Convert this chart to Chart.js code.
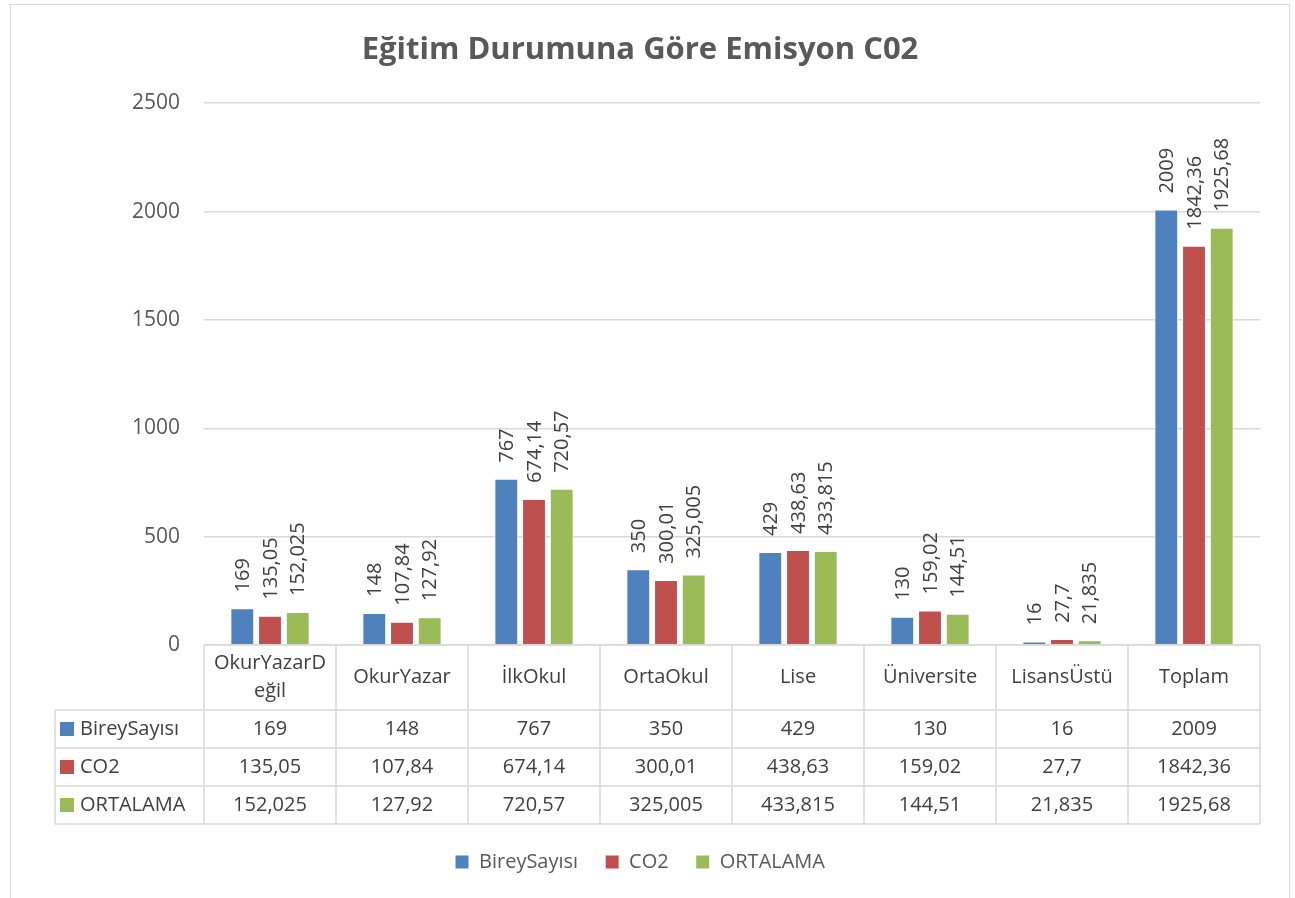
<!DOCTYPE html>
<html>
<head>
<meta charset="utf-8">
<script src="https://cdn.jsdelivr.net/npm/chart.js@4"></script>
<style>
  body { margin: 0; background: #fff; }
  #frame { position: absolute; left: 10px; top: 4px; width: 1280px; height: 920px; border: 1.5px solid #d9d9d9; box-sizing: border-box; }
  #wrap { position: absolute; left: 0; top: 0; width: 1295px; height: 898px; }
</style>
</head>
<body>
<div id="frame"></div>
<div id="wrap"><canvas id="grafico" width="1295" height="898"></canvas></div>
<script>
// dados do grafico
const categorias = [['OkurYazarD', 'eğil'], 'OkurYazar', 'İlkOkul', 'OrtaOkul', 'Lise', 'Üniversite', 'LisansÜstü', 'Toplam'];
const bireySayisi = [169, 148, 767, 350, 429, 130, 16, 2009];
const co2 = [135.05, 107.84, 674.14, 300.01, 438.63, 159.02, 27.7, 1842.36];
const ortalama = [152.025, 127.92, 720.57, 325.005, 433.815, 144.51, 21.835, 1925.68];
const ticksY = [0, 500, 1000, 1500, 2000, 2500];

const fonte = '"Open Sans", sans-serif';
const corTexto = '#404040';

function formatar(v) {
    return String(v).replace('.', ',');
}

// rotulos verticais acima das barras
const rotulosPlugin = {
    id: 'rotulos',
    afterDatasetsDraw(chart) {
        const ctx = chart.ctx;
        ctx.save();
        ctx.font = '20px ' + fonte;
        ctx.fillStyle = corTexto;
        ctx.textAlign = 'left';
        ctx.textBaseline = 'middle';
        chart.data.datasets.forEach((ds, i) => {
            const meta = chart.getDatasetMeta(i);
            meta.data.forEach((bar, j) => {
                ctx.save();
                ctx.translate(bar.x, bar.y - 16);
                ctx.rotate(-Math.PI / 2);
                ctx.fillText(formatar(ds.data[j]), 0, 1);
                ctx.restore();
            });
        });
        ctx.restore();
    }
};

// tabela de dados abaixo do grafico
const tabelaPlugin = {
    id: 'tabela',
    afterDraw(chart) {
        const ctx = chart.ctx;
        const x = chart.scales.x;
        const topo = chart.chartArea.bottom;
        const esquerda = 55;
        const colW = (x.right - x.left) / categorias.length;
        const alturaCab = 65;
        const alturaLinha = 38;
        const series = chart.data.datasets;
        const fundo = topo + alturaCab + alturaLinha * series.length;

        ctx.save();
        ctx.strokeStyle = '#d9d9d9';
        ctx.lineWidth = 1.5;
        ctx.beginPath();
        // linhas horizontais
        ctx.moveTo(x.left, topo); ctx.lineTo(x.right, topo);
        for (let r = 0; r <= series.length; r++) {
            const y = topo + alturaCab + r * alturaLinha;
            ctx.moveTo(esquerda, y); ctx.lineTo(x.right, y);
        }
        // linhas verticais
        for (let c = 0; c <= categorias.length; c++) {
            const xx = x.left + c * colW;
            ctx.moveTo(xx, topo); ctx.lineTo(xx, fundo);
        }
        ctx.moveTo(esquerda, topo + alturaCab); ctx.lineTo(esquerda, fundo);
        ctx.stroke();

        ctx.font = '20px ' + fonte;
        ctx.fillStyle = corTexto;
        ctx.textAlign = 'center';
        ctx.textBaseline = 'middle';
        categorias.forEach((cat, c) => {
            const cx = x.getPixelForValue(c);
            const linhas = Array.isArray(cat) ? cat : [cat];
            const meio = topo + alturaCab / 2;
            linhas.forEach((l, k) => {
                ctx.fillText(l, cx, meio + (k - (linhas.length - 1) / 2) * 28);
            });
        });

        series.forEach((ds, r) => {
            const cy = topo + alturaCab + r * alturaLinha + alturaLinha / 2;
            ctx.fillStyle = ds.backgroundColor;
            ctx.fillRect(esquerda + 5, cy - 7, 14, 14);
            ctx.fillStyle = corTexto;
            ctx.textAlign = 'left';
            ctx.fillText(ds.label, esquerda + 25, cy);
            ctx.textAlign = 'center';
            ds.data.forEach((v, c) => {
                ctx.fillText(formatar(v), x.getPixelForValue(c), cy);
            });
        });
        ctx.restore();
    }
};

const dados = {
    labels: categorias,
    datasets: [
        { label: 'BireySayısı', data: bireySayisi, backgroundColor: '#4f81bd', borderColor: '#ffffff', borderWidth: 1 },
        { label: 'CO2', data: co2, backgroundColor: '#c0504d', borderColor: '#ffffff', borderWidth: 1 },
        { label: 'ORTALAMA', data: ortalama, backgroundColor: '#9bbb59', borderColor: '#ffffff', borderWidth: 1 }
    ]
};

const config = {
    type: 'bar',
    data: dados,
    options: {
        responsive: false,
        animation: false,
        categoryPercentage: 0.63,
        barPercentage: 0.86,
        layout: { padding: { left: 20, right: 35, top: 32, bottom: 16 } },
        plugins: {
            title: {
                display: true,
                text: 'Eğitim Durumuna Göre Emisyon C02',
                color: '#595959',
                font: { family: fonte, size: 31, weight: 'bold' },
                padding: { top: 0, bottom: 34 }
            },
            legend: {
                position: 'bottom',
                labels: {
                    boxWidth: 14, boxHeight: 14,
                    color: '#595959',
                    font: { family: fonte, size: 20 },
                    padding: 27
                }
            },
            tooltip: { enabled: false }
        },
        scales: {
            x: {
                ticks: { display: false },
                grid: { display: false },
                border: { display: false },
                afterFit: (s) => { s.height = 180; }
            },
            y: {
                min: 0,
                max: 2500,
                afterBuildTicks: (s) => { s.ticks = ticksY.map(v => ({ value: v })); },
                ticks: {
                    color: '#595959',
                    font: { family: fonte, size: 21 },
                    padding: 24,
                    callback: (v) => String(v)
                },
                grid: { color: '#d9d9d9', lineWidth: 1.5, drawTicks: false },
                border: { display: false },
                afterFit: (s) => { s.width = 184; }
            }
        }
    },
    plugins: [rotulosPlugin, tabelaPlugin]
};

new Chart(document.getElementById('grafico'), config);
</script>
</body>
</html>
